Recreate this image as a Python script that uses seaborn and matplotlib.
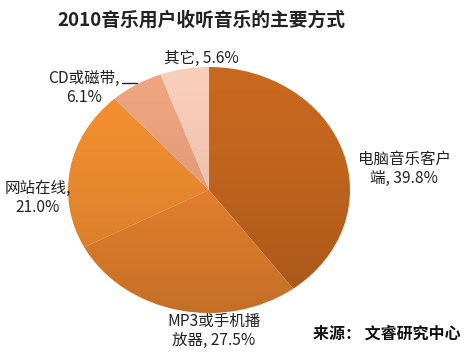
import numpy as np
import matplotlib
matplotlib.use("Agg")
import matplotlib.pyplot as plt
from matplotlib.patches import Circle
import seaborn as sns

categories = ["电脑音乐客户\n端", "MP3或手机播\n放器", "网站在线,\n", "CD或磁带,\n", "其它"]
shares = [39.8, 27.5, 21.0, 6.1, 5.6]
title = "2010音乐用户收听音乐的主要方式"
source = "来源： 文睿研究中心"

colors = ["#C8681F", "#EE862F", "#F48F31", "#EEA47F", "#F8CDB9"]

sns.set_theme(style="white")
plt.rcParams["font.family"] = ["Noto Sans CJK SC", "DejaVu Sans"]

W, H = 475, 359
fig = plt.figure(figsize=(W / 100, H / 100), dpi=100)
# pie drawn slightly stretched horizontally like the original
cx, cy, rx, ry = 209, 190, 141, 123
ax = fig.add_axes([(cx - rx) / W, (H - cy - ry) / H, 2 * rx / W, 2 * ry / H])

wedges, _ = ax.pie(shares, colors=colors, startangle=90, counterclock=False,
                   radius=1, wedgeprops=dict(edgecolor="none"))
ax.set_xlim(-1, 1)
ax.set_ylim(-1, 1)
ax.set_aspect("auto")
ax.axis("off")

# soft shading, darker towards the bottom of the pie
grad = np.linspace(0, 1, 256).reshape(-1, 1)
shade = np.zeros((256, 1, 4))
shade[..., 3] = 0.18 * grad ** 1.6
im = ax.imshow(shade, extent=[-1, 1, -1, 1], aspect="auto", zorder=3, origin="upper")
im.set_clip_path(Circle((0, 0), 1, transform=ax.transData))
ax.set_xlim(-1, 1)
ax.set_ylim(-1, 1)

def label_text(i):
    name = categories[i]
    if name.endswith("\n"):
        return f"{name}{shares[i]:.1f}%"
    return f"{name}, {shares[i]:.1f}%"

label_pos = [(404, 169), (214, 331), (38, 198), (84, 88), (201, 58)]
for i, (px, py) in enumerate(label_pos):
    fig.text(px / W, (H - py) / H, label_text(i), ha="center", va="center",
             fontsize=11.2, color="#222222", linespacing=1.1)

# leader line for the CD slice
fig.add_artist(plt.Line2D([122 / W, 137 / W], [(H - 83) / H, (H - 83) / H],
                          color="#222222", lw=1))

fig.text(201 / W, (H - 20) / H, title, ha="center", va="center",
         fontsize=13.5, fontweight="bold", color="#222222")
fig.text(387 / W, (H - 334) / H, source, ha="center", va="center",
         fontsize=11.5, fontweight="bold", color="#111111")

fig.savefig("out.png", dpi=100)
